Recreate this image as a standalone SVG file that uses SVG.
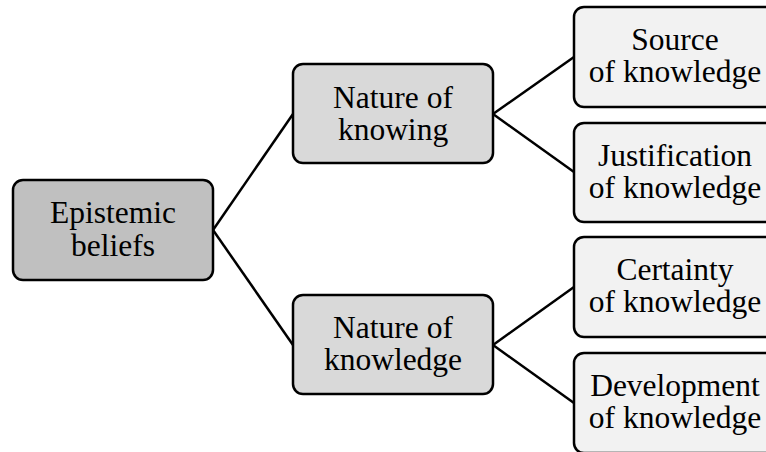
<svg xmlns="http://www.w3.org/2000/svg" width="766" height="452" viewBox="0 0 766 452">
<style>
.box{stroke:#000;stroke-width:2.5}
.l0{fill:#c0c0c0}
.l1{fill:#d9d9d9}
.l2{fill:#f2f2f2}
text{font-family:"Liberation Serif","Times New Roman",serif;font-size:31.5px;fill:#000;text-anchor:middle}
.conn line{stroke:#000;stroke-width:2.5;fill:none}
</style>
<rect width="766" height="452" fill="#fff"/>
<g class="conn">
<line x1="213" y1="230" x2="293" y2="114"/>
<line x1="213" y1="230" x2="293" y2="345"/>
<line x1="493" y1="114" x2="574" y2="57"/>
<line x1="493" y1="114" x2="574" y2="172"/>
<line x1="493" y1="345" x2="574" y2="287"/>
<line x1="493" y1="345" x2="574" y2="403"/>
</g>
<g id="root">
<rect class="box l0" x="13" y="180" width="200" height="100" rx="10"/>
<text x="113" y="223">Epistemic</text>
<text x="113" y="256">beliefs</text>
</g>
<g id="knowing">
<rect class="box l1" x="293" y="64" width="200" height="99" rx="10"/>
<text x="393" y="107.5">Nature of</text>
<text x="393" y="139.5">knowing</text>
</g>
<g id="knowledge">
<rect class="box l1" x="293" y="295" width="200" height="99" rx="10"/>
<text x="393" y="337.5">Nature of</text>
<text x="393" y="369.5">knowledge</text>
</g>
<g id="source">
<rect class="box l2" x="574" y="7" width="202" height="100" rx="10"/>
<text x="675" y="49.5">Source</text>
<text x="675" y="81.5">of knowledge</text>
</g>
<g id="justification">
<rect class="box l2" x="574" y="123" width="202" height="99" rx="10"/>
<text x="675" y="165.5">Justification</text>
<text x="675" y="197.5">of knowledge</text>
</g>
<g id="certainty">
<rect class="box l2" x="574" y="237" width="202" height="100" rx="10"/>
<text x="675" y="280">Certainty</text>
<text x="675" y="312">of knowledge</text>
</g>
<g id="development">
<rect class="box l2" x="574" y="353" width="202" height="100" rx="10"/>
<text x="675" y="395.5">Development</text>
<text x="675" y="427.5">of knowledge</text>
</g>
</svg>
